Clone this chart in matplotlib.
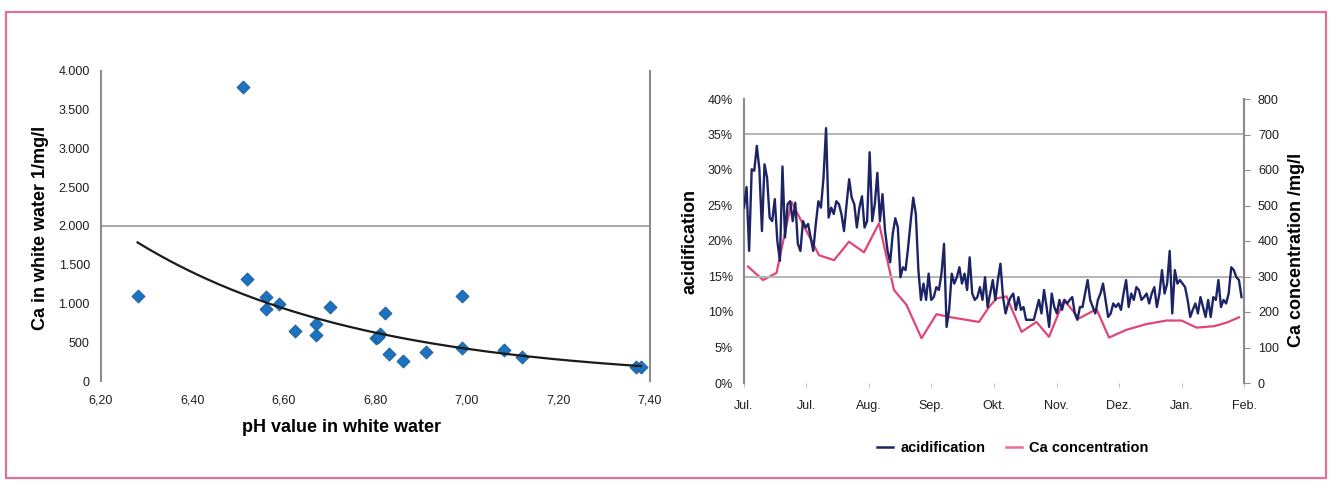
import numpy as np
import matplotlib
matplotlib.use("Agg")
import matplotlib.pyplot as plt
from matplotlib.patches import Rectangle
from matplotlib.lines import Line2D
from matplotlib.ticker import FuncFormatter, MultipleLocator

plt.rcParams['font.family'] = ['Liberation Sans', 'DejaVu Sans']

# ---------------- data: left scatter ----------------
ph_values = [6.28, 6.51, 6.52, 6.56, 6.56, 6.59, 6.625, 6.67, 6.67, 6.70,
             6.80, 6.81, 6.805, 6.82, 6.83, 6.86, 6.91, 6.99, 6.99, 7.08,
             7.12, 7.37, 7.38]
ca_values = [1100, 3790, 1320, 1080, 925, 990, 645, 740, 590, 955,
             551, 602, 570, 882, 353, 262, 374, 1101, 426, 404,
             314, 185, 185]
x_ticks_left = [6.20, 6.40, 6.60, 6.80, 7.00, 7.20, 7.40]
y_ticks_left = [0, 500, 1000, 1500, 2000, 2500, 3000, 3500, 4000]

# ---------------- data: right time series ----------------
month_labels = ["Jul.", "Jul.", "Aug.", "Sep.", "Okt.", "Nov.", "Dez.", "Jan.", "Feb."]
acidification = [
    24.7, 27.6, 18.6, 30.1, 29.9, 33.4, 30.1, 21.4, 30.8, 28.9,
    23.3, 22.8, 25.9, 20.0, 17.2, 30.5, 20.5, 25.2, 25.6, 22.8,
    25.4, 19.6, 18.6, 22.8, 21.9, 22.4, 20.5, 18.6, 22.4, 25.6,
    24.7, 28.9, 35.9, 23.3, 24.7, 23.8, 25.6, 25.2, 23.8, 21.4,
    25.2, 28.7, 26.1, 25.2, 21.9, 24.7, 26.3, 21.9, 22.8, 32.5,
    22.8, 25.2, 29.6, 22.8, 26.6, 21.4, 18.6, 17.0, 21.0, 23.2,
    21.9, 14.9, 16.3, 15.9, 19.1, 22.8, 26.1, 23.8, 15.9, 11.7,
    14.0, 11.7, 15.4, 11.7, 12.1, 13.5, 13.1, 15.4, 19.6, 7.9,
    10.3, 15.4, 14.0, 14.9, 16.3, 14.0, 15.4, 13.1, 17.7, 12.6,
    11.7, 12.1, 13.5, 11.7, 14.9, 10.7, 12.6, 14.5, 11.7, 14.5,
    16.8, 12.1, 9.8, 11.2, 12.1, 12.6, 10.3, 12.1, 10.3, 10.7,
    8.9, 8.9, 8.9, 8.9, 10.3, 11.7, 9.8, 13.1, 10.7, 7.9,
    12.6, 10.7, 9.8, 11.7, 10.3, 11.7, 11.2, 11.7, 12.1, 9.8,
    8.9, 10.7, 10.7, 12.6, 14.5, 11.7, 10.7, 9.8, 11.7, 12.6,
    14.0, 11.7, 9.3, 9.8, 11.2, 10.7, 11.2, 10.3, 12.6, 14.5,
    10.7, 12.6, 11.7, 13.5, 13.1, 11.7, 12.1, 12.6, 11.2, 12.6,
    13.5, 10.7, 12.6, 15.9, 12.6, 14.0, 18.6, 9.8, 15.9, 14.0,
    14.5, 14.0, 13.5, 11.7, 9.3, 10.3, 11.2, 9.8, 12.1, 10.7,
    9.3, 11.7, 9.3, 12.1, 11.7, 14.5, 10.7, 11.7, 11.2, 12.6,
    16.3, 15.9, 14.9, 14.5, 12.1,
]
ca_days = [1.6, 7.6, 13, 19, 30, 36, 42, 48, 54, 60, 65, 71, 77, 82, 94,
           98, 101, 105, 111, 117, 122, 128, 134, 141, 146, 153, 161, 169,
           175, 181, 188, 193, 198]
ca_conc = [328, 290, 310, 510, 360, 346, 398, 368, 450, 262, 220, 126, 194,
           186, 172, 214, 238, 244, 144, 172, 130, 234, 182, 208, 128, 150,
           166, 176, 176, 156, 160, 170, 185]
total_days = 200

# ---------------- figure ----------------
fig = plt.figure(figsize=(13.3, 4.82), dpi=100)
fig.patch.set_facecolor('white')
fig.add_artist(Rectangle((6 / 1330, 1 - 478 / 482), 1320 / 1330, 466 / 482,
                         transform=fig.transFigure, fill=False,
                         edgecolor='#e0709a', linewidth=1.6))

grey = '#8c8c8c'
tick_col = '#1e1e1e'

# ---------- left chart ----------
ax1 = fig.add_axes([101 / 1330, 1 - 381 / 482, 549 / 1330, 310 / 482])
ax1.set_xlim(6.2, 7.4)
ax1.set_ylim(0, 4000)
ax1.axhline(2000, color='#a0a0a0', lw=1.3, zorder=1)
ax1.scatter(ph_values, ca_values, marker='D', s=44, color='#1c72be',
            edgecolor='#155a98', linewidth=0.6, zorder=3)
# exponential trend line (least squares on log values, like a spreadsheet trendline)
b, a = np.polyfit(ph_values, np.log(ca_values), 1)
xt = np.linspace(min(ph_values), max(ph_values), 200)
ax1.plot(xt, np.exp(a + b * xt), color='#1a1a1a', lw=1.6, zorder=4)

ax1.set_xticks(x_ticks_left)
ax1.set_yticks(y_ticks_left)
ax1.xaxis.set_major_formatter(FuncFormatter(lambda v, p: f"{v:.2f}".replace('.', ',')))
ax1.yaxis.set_major_formatter(FuncFormatter(lambda v, p: f"{int(v):,}".replace(',', '.')))
for s in ['top', 'bottom']:
    ax1.spines[s].set_visible(False)
for s in ['left', 'right']:
    ax1.spines[s].set_color(grey)
    ax1.spines[s].set_linewidth(1.5)
ax1.tick_params(axis='both', length=0, labelsize=9, colors=tick_col)
ax1.tick_params(axis='x', pad=10)
ax1.tick_params(axis='y', pad=8)
ax1.set_xlabel("pH value in white water", fontsize=13, fontweight='bold')
ax1.xaxis.set_label_coords((341 - 101) / 549, -(419 - 381) / 310)
ax1.set_ylabel("Ca in white water 1/mg/l", fontsize=13, fontweight='bold')
ax1.yaxis.set_label_coords(-(101 - 49) / 549, (381 - 228) / 310)

# ---------- right chart ----------
ax2 = fig.add_axes([744 / 1330, 1 - 383 / 482, 500 / 1330, 284 / 482])
ax3 = ax2.twinx()
ax2.set_xlim(0, total_days)
ax2.set_ylim(0, 40)
ax3.set_ylim(0, 800)
for v in [15, 35]:
    ax2.axhline(v, color='#b4b4b4', lw=1.4, zorder=1)
days = np.linspace(0, total_days - 1, len(acidification))
ax2.plot(days, acidification, color='#1c2466', lw=1.7, zorder=3)
ax3.plot(ca_days, ca_conc, color='#e0457a', lw=1.6, zorder=2)
ax2.set_zorder(ax3.get_zorder() + 1)
ax2.patch.set_visible(False)

ax2.set_xticks(np.linspace(0, total_days, len(month_labels)))
ax2.set_xticklabels(month_labels)
ax2.yaxis.set_major_locator(MultipleLocator(5))
ax2.yaxis.set_major_formatter(FuncFormatter(lambda v, p: f"{v:.0f}%"))
ax3.yaxis.set_major_locator(MultipleLocator(100))
for ax in (ax2, ax3):
    for s in ['top', 'bottom']:
        ax.spines[s].set_visible(False)
    for s in ['left', 'right']:
        ax.spines[s].set_color(grey)
        ax.spines[s].set_linewidth(1.5)
ax2.tick_params(axis='y', length=0, labelsize=9, colors=tick_col, pad=8)
ax2.tick_params(axis='x', length=3, color='#c0c0c0', labelsize=9, colors=tick_col, pad=9)
ax3.tick_params(axis='y', length=4, color=grey, labelsize=9, colors=tick_col, pad=6)
ax2.set_ylabel("acidification", fontsize=13, fontweight='bold')
ax2.yaxis.set_label_coords(-(744 - 699) / 500, (383 - 241) / 284)
ax3.set_ylabel("Ca concentration /mg/l", fontsize=13, fontweight='bold')
ax3.yaxis.set_label_coords(1 + (1288 - 1244) / 500, (383 - 250) / 284)

handles = [Line2D([], [], color='#1c2466', lw=1.8),
           Line2D([], [], color='#ef6a9c', lw=1.8)]
fig.legend(handles, ["acidification", "Ca concentration"], loc='center',
           bbox_to_anchor=(1013 / 1330, 1 - 448 / 482), ncol=2, frameon=False,
           prop={'weight': 'bold', 'size': 10.5}, handlelength=1.1,
           handletextpad=0.5, columnspacing=1.4)

fig.savefig("out.png", dpi=100, facecolor='white')
